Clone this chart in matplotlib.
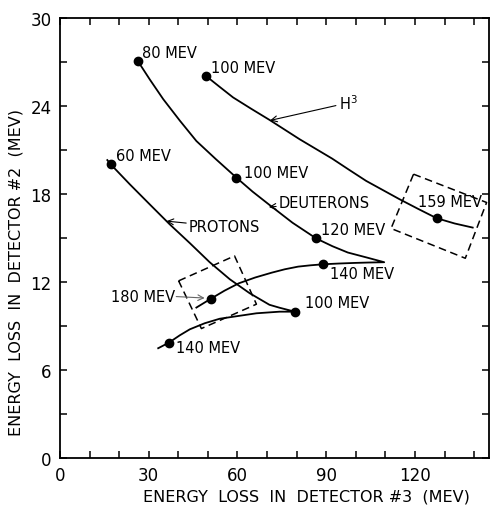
import numpy as np
import matplotlib.pyplot as plt
from matplotlib.ticker import MultipleLocator

# traced curves: energy loss in detector 3 (x) vs detector 2 (y), MeV
proton_x = [16.0, 17.1, 23.6, 30.4, 37.1, 43.9, 50.6, 57.4, 64.1, 70.8, 74.2, 79.4,
            74.2, 66.4, 60.7, 54.0, 48.9, 43.9, 40.5, 36.9, 33.2]
proton_y = [20.3, 20.02, 18.65, 17.27, 15.92, 14.64, 13.34, 12.18, 11.23, 10.44, 10.24, 9.97,
            9.97, 9.86, 9.69, 9.49, 9.18, 8.77, 8.36, 7.87, 7.48]

deut_x = [26.4, 30.4, 34.9, 40.5, 46.1, 52.6, 59.6, 65.1, 70.9, 78.6, 86.6, 92.1,
          97.3, 103.9, 109.6,
          104.4, 99.3, 94.1, 89.0, 84.7, 80.5, 76.0, 71.6, 66.0, 60.4, 55.6, 50.9, 46.1]
deut_y = [27.02, 25.78, 24.45, 22.99, 21.6, 20.38, 19.11, 18.15, 17.23, 16.03, 14.96, 14.43,
          14.0, 13.65, 13.34,
          13.32, 13.29, 13.25, 13.2, 13.13, 13.04, 12.86, 12.63, 12.3, 11.9, 11.4, 10.84, 10.25]

h3_x = [49.3, 53.9, 58.5, 64.6, 70.8, 75.9, 81.0, 86.5, 92.0, 97.7, 103.5, 109.1,
        114.7, 121.0, 127.3, 133.4, 139.5]
h3_y = [26.04, 25.3, 24.57, 23.8, 23.04, 22.38, 21.72, 21.06, 20.4, 19.64, 18.88, 18.26,
        17.64, 16.98, 16.34, 15.98, 15.7]

# labelled beam energies on each curve
proton_E = [60, 100, 140]
proton_pts = [(17.1, 20.02), (79.4, 9.97), (36.7, 7.82)]
deut_E = [80, 100, 120, 140, 180]
deut_pts = [(26.4, 27.02), (59.6, 19.11), (86.6, 14.96), (89.0, 13.2), (50.9, 10.84)]
h3_E = [100, 159]
h3_pts = [(49.3, 26.04), (127.3, 16.34)]

# dashed acceptance boxes (corners)
box1 = [(40.1, 12.07), (59.0, 13.77), (66.4, 10.48), (47.8, 8.82)]
box2 = [(119.5, 19.34), (144.2, 17.41), (137.0, 13.61), (111.9, 15.64)]

fig = plt.figure(figsize=(4.9, 5.1), dpi=100)
ax = fig.add_axes([0.1224, 0.1, 0.8755, 0.8633])

for xs, ys in [(proton_x, proton_y), (deut_x, deut_y), (h3_x, h3_y)]:
    ax.plot(xs, ys, color='black', lw=1.3)

for pts in [proton_pts, deut_pts, h3_pts]:
    ax.plot([p[0] for p in pts], [p[1] for p in pts], 'o', color='black', ms=6)

for box in [box1, box2]:
    bx = [p[0] for p in box] + [box[0][0]]
    by = [p[1] for p in box] + [box[0][1]]
    ax.plot(bx, by, color='black', lw=1.1, ls=(0, (5, 3)), clip_on=False)

fs = 10.5
def lab(s, x, y, **kw):
    ax.text(x, y, s, fontsize=fs, va='center', **kw)

lab('%d MEV' % proton_E[0], 18.9, 20.6)
lab('%d MEV' % proton_E[1], 82.8, 10.6)
lab('%d MEV' % proton_E[2], 39.1, 7.53)
lab('%d MEV' % deut_E[0], 27.6, 27.65)
lab('%d MEV' % deut_E[1], 62.2, 19.45)
lab('%d MEV' % deut_E[2], 88.3, 15.6)
lab('%d MEV' % deut_E[3], 91.4, 12.57)
lab('%d MEV' % deut_E[4], 38.8, 11.0, ha='right')
lab('%d MEV' % h3_E[0], 51.2, 26.6)
lab('%d MEV' % h3_E[1], 120.9, 17.5)

arrow = dict(arrowstyle='->', color='black', lw=0.8, shrinkA=0, shrinkB=0)
ax.annotate('PROTONS', xy=(36.0, 16.14), xytext=(43.6, 15.75), fontsize=fs,
            va='center', arrowprops=arrow)
ax.annotate('DEUTERONS', xy=(70.6, 17.1), xytext=(74.0, 17.4), fontsize=fs,
            va='center', arrowprops=arrow)
ax.annotate('H$^3$', xy=(71.0, 23.0), xytext=(94.2, 24.2), fontsize=fs,
            va='center', arrowprops=arrow)
ax.annotate('', xy=(48.9, 10.9), xytext=(39.3, 11.0),
            arrowprops=dict(arrowstyle='->', color='0.4', lw=0.8,
                            shrinkA=0, shrinkB=0))

ax.set_xlim(0, 145)
ax.set_ylim(0, 30)
ax.xaxis.set_major_locator(MultipleLocator(30))
ax.xaxis.set_minor_locator(MultipleLocator(10))
ax.yaxis.set_major_locator(MultipleLocator(6))
ax.yaxis.set_minor_locator(MultipleLocator(3))
ax.tick_params(which='both', direction='in', top=True, right=True,
               length=5, width=1.1, labelsize=12, pad=6)
for s in ax.spines.values():
    s.set_linewidth(1.3)

ax.set_xlabel('ENERGY  LOSS  IN  DETECTOR #3  (MEV)', fontsize=11.5)
ax.set_ylabel('ENERGY  LOSS  IN  DETECTOR #2  (MEV)', fontsize=11.5)
ax.xaxis.set_label_coords(0.575, -0.07)
ax.yaxis.set_label_coords(-0.085, 0.424)

fig.savefig('out.png', dpi=100)
